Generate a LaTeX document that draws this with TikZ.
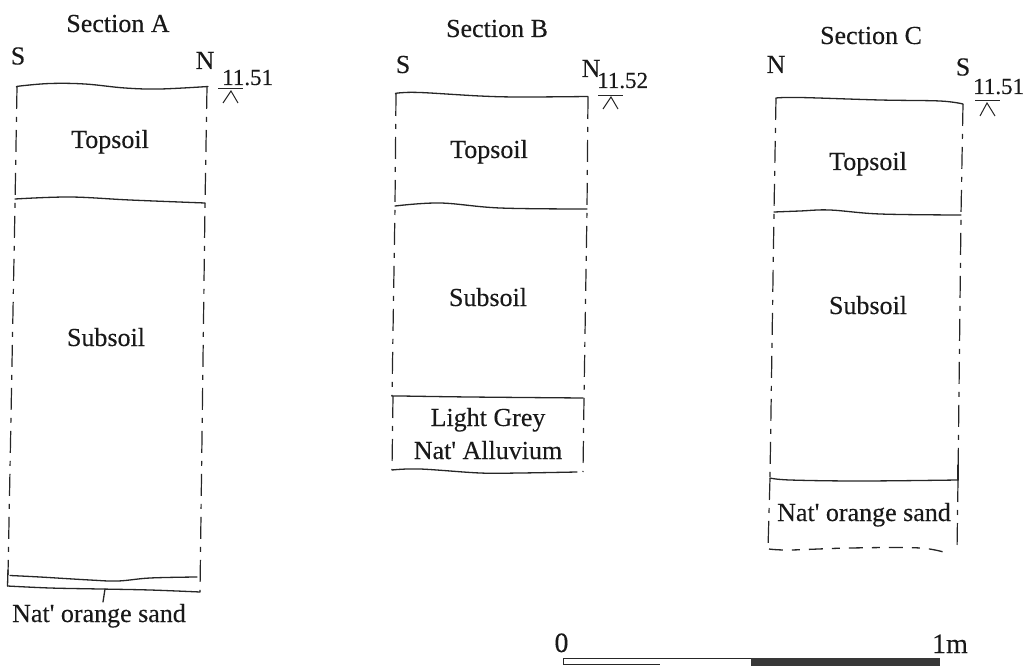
\documentclass[tikz,border=0pt]{standalone}
\usepackage{fontspec}
\setmainfont[FakeBold=0.25]{Liberation Serif}
\tikzset{
  lbl/.style={inner sep=0pt,anchor=base,font=\fontsize{26}{28}\selectfont,text=black!90},
  lvl/.style={inner sep=0pt,anchor=base west,font=\fontsize{23}{25}\selectfont,text=black!90},
  bigl/.style={inner sep=0pt,anchor=base,font=\fontsize{28}{30}\selectfont,text=black!90},
  solidln/.style={draw=black!85,line width=1.3pt,line cap=round,line join=round},
  dashln/.style={draw=black!85,line width=1.2pt,dash pattern=on 22pt off 8pt on 5pt off 8pt},
  dashbt/.style={draw=black!85,line width=1.3pt,dash pattern=on 14pt off 9pt on 8pt off 9pt},
  thinln/.style={draw=black!85,line width=1pt}
}
\begin{document}
\begin{tikzpicture}[x=1pt,y=-1pt]
\useasboundingbox (0,0) rectangle (1026,666);
% Section A
\node[lbl] (ta) at (118,32) {Section A};
\node[lbl] (as) at (18,64.5) {S};
\node[lbl] (an) at (205,69) {N};
\node[lvl] (alev) at (222,85) {11.51};
\draw[solidln] plot[smooth,tension=0.6] coordinates {(17,87)(20,86)(50,83.5)(85,84)(125,88)(160,89)(208,86.5)};
\draw[dashln] (17,87) -- (15,205) -- (8,575);
\draw[dashln] (207,87) -- (205,205) -- (200,592);
\draw[solidln] plot[smooth,tension=0.6] coordinates {(15,199)(70,197)(130,200)(205,203)};
\draw[solidln] plot[smooth,tension=0.6] coordinates {(10,575.5)(40,577)(90,580)(118,581)(150,578)(197,577)};
\draw[solidln] (8,570) -- (7.5,586);
\draw[solidln] plot[smooth,tension=0.6] coordinates {(7.5,586)(50,588)(100,589)(150,590)(200,592)};
\draw[solidln] (105,589) -- (103,602);
\node[lbl] (atop) at (110,148) {Topsoil};
\node[lbl] (asub) at (106,346) {Subsoil};
\node[lbl] (asand) at (99,622) {Nat\textquotesingle{} orange sand};
\draw[thinln] (218,88.5) -- (243,88.5);
\draw[thinln] (223,103) -- (231,91) -- (238,103);
% Section B
\node[lbl] (tb) at (497,37) {Section B};
\node[lbl] (bs) at (403,73) {S};
\node[lbl] (bn) at (591,77) {N};
\node[lvl] (blev) at (597,88) {11.52};
\draw[solidln] plot[smooth,tension=0.6] coordinates {(396,94)(398,93)(420,92.5)(480,96)(520,97)(588,96.5)};
\draw[dashln] (396,94) -- (395,206) -- (392,396);
\draw[dashln] (588,97) -- (587,209) -- (584,398);
\draw[solidln] plot[smooth,tension=0.6] coordinates {(395,206)(440,203)(500,208)(587,209)};
\draw[solidln] plot[smooth,tension=0.6] coordinates {(393,396)(400,396)(470,397)(583,398)};
\draw[dashln] (393,396) -- (392,470);
\draw[dashln] (584,398) -- (583,472);
\draw[solidln] plot[smooth,tension=0.6] coordinates {(392,470)(420,469)(480,473)(520,473)(577,472)};
\node[lbl] (btop) at (489,158) {Topsoil};
\node[lbl] (bsub) at (488,306) {Subsoil};
\node[lbl] (bg) at (488,426) {Light Grey};
\node[lbl] (ball) at (488,459) {Nat\textquotesingle{} Alluvium};
\draw[thinln] (598,96) -- (623,96);
\draw[thinln] (603,109) -- (611,97) -- (618,109);
% Section C
\node[lbl] (tc) at (871,44) {Section C};
\node[lbl] (cn) at (776,73) {N};
\node[lbl] (cs) at (963,75.5) {S};
\node[lvl] (clev) at (973,94) {11.51};
\draw[solidln] plot[smooth,tension=0.6] coordinates {(776,98)(800,97.5)(880,100)(940,101)(963,104)};
\draw[dashln] (776,98) -- (774,212) -- (770,478);
\draw[dashln] (963,104) -- (961,215) -- (958,480);
\draw[solidln] plot[smooth,tension=0.6] coordinates {(774,212)(800,211)(830,210)(880,214)(961,215)};
\draw[solidln] plot[smooth,tension=0.6] coordinates {(770,478)(790,480)(860,481)(958,480)};
\draw[dashln] (770,478) -- (768,548);
\draw[solidln] (958,480) -- (958,465);
\draw[dashln] (958,480) -- (957,552);
\draw[dashbt] plot[smooth,tension=0.6] coordinates {(769,549)(790,550)(850,548)(920,548)(950,554)};
\node[lbl] (ctop) at (868,170) {Topsoil};
\node[lbl] (csub) at (868,314) {Subsoil};
\node[lbl] (csand) at (864,521) {Nat\textquotesingle{} orange sand};
\draw[thinln] (975,101) -- (1000,101);
\draw[thinln] (980,116) -- (987,103) -- (995,116);
% Scale
\node[bigl] (sz) at (561.5,652) {0};
\node[bigl] (so) at (950,653) {1m};
\fill[black!78] (751,658) rectangle (940,666);
\draw[thinln] (751,658.5) -- (563.5,658.5) -- (563.5,664.5) -- (660,664.5);
\end{tikzpicture}
\end{document}
